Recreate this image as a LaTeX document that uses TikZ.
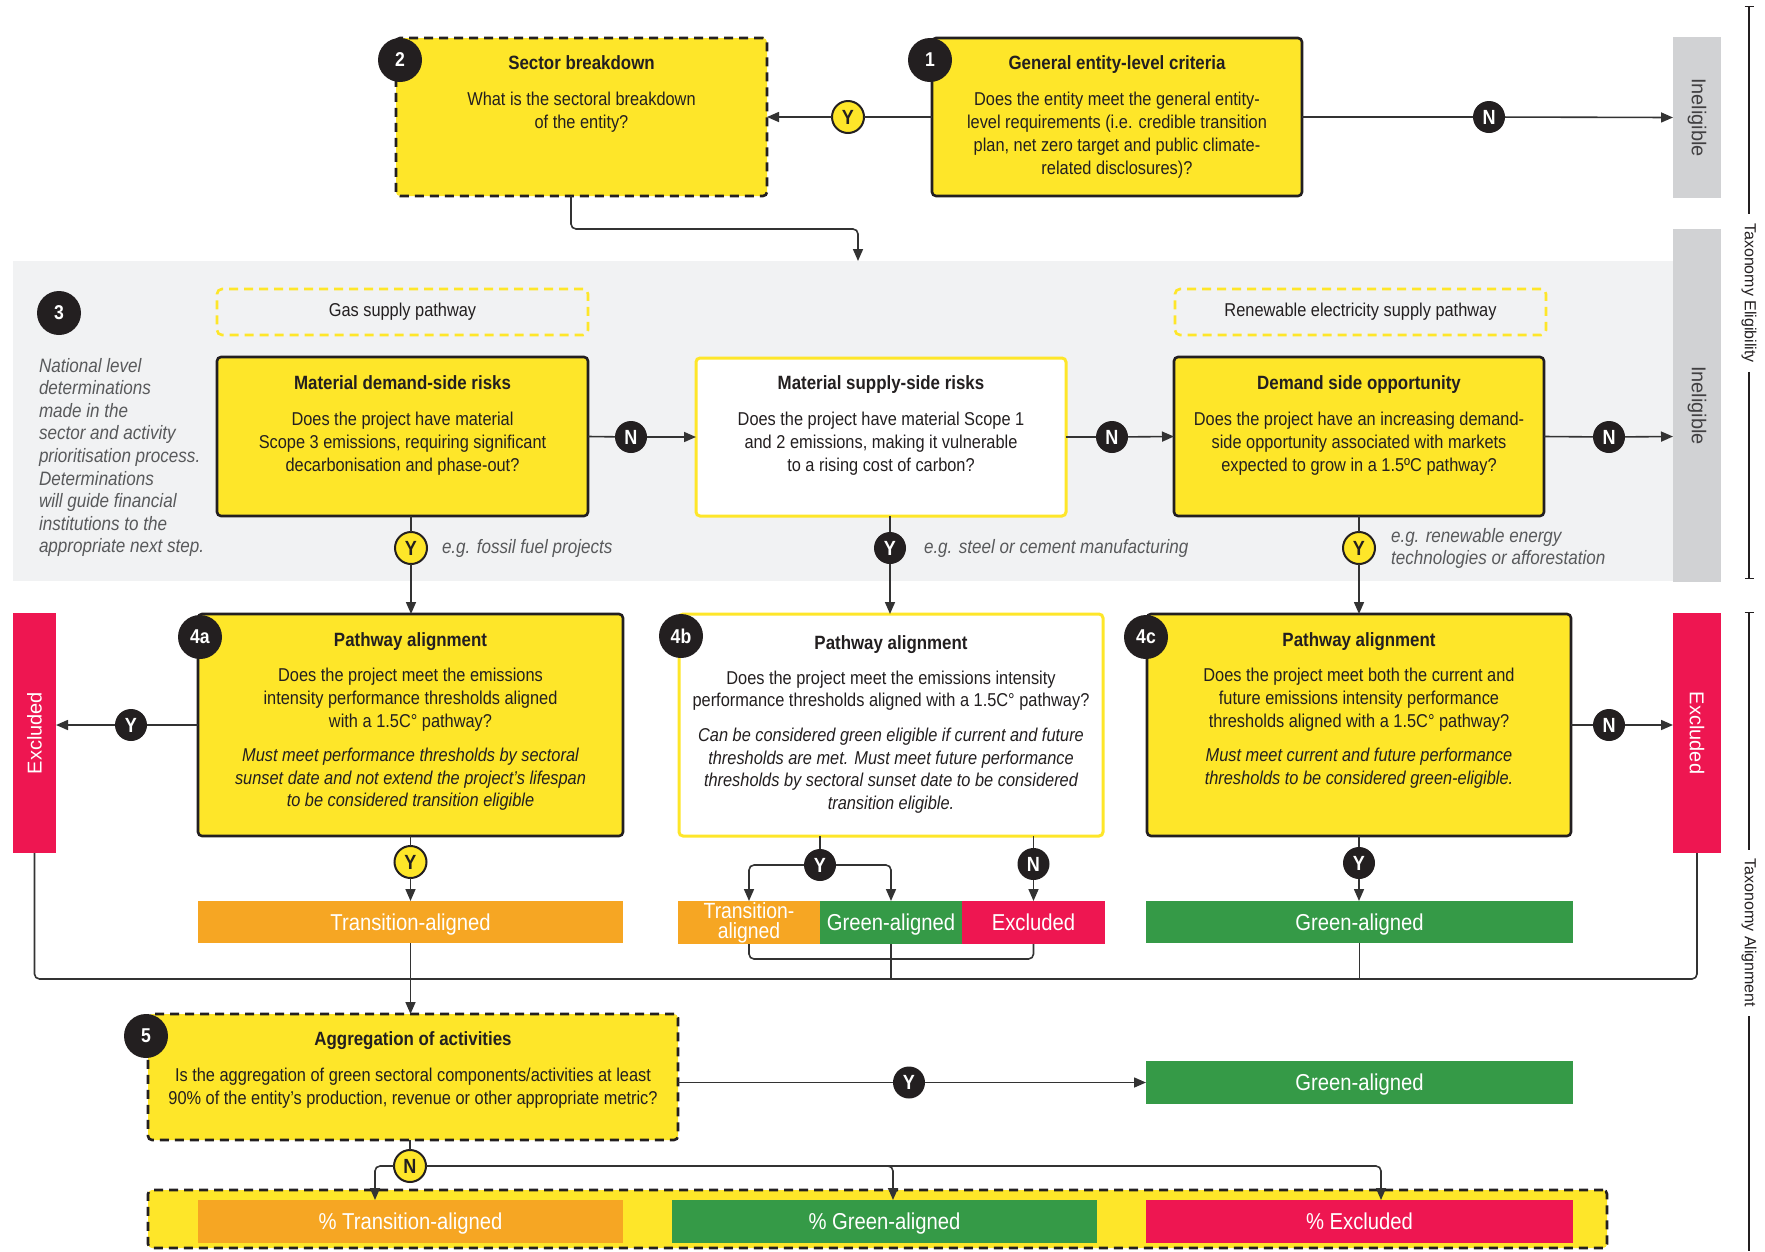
\documentclass[tikz,border=0pt]{standalone}
\usepackage{fontspec}
\setmainfont{Liberation Sans}[FakeStretch=0.88]
\newfontfamily\plainsans{Liberation Sans}
\usetikzlibrary{arrows.meta}
\definecolor{yel}{HTML}{FEE629}
\definecolor{ink}{HTML}{231F20}
\definecolor{linec}{HTML}{333333}
\definecolor{bandc}{HTML}{F1F2F3}
\definecolor{greybox}{HTML}{D1D2D4}
\definecolor{inelc}{HTML}{414042}
\definecolor{exred}{HTML}{EE1651}
\definecolor{orng}{HTML}{F6A623}
\definecolor{grn}{HTML}{359A47}
\definecolor{notec}{HTML}{58595B}
\newcommand\ttlfont{\bfseries\fontsize{19.2}{21}\selectfont}
\newcommand\bdyfont{\fontsize{18.6}{22.7}\selectfont}
\newcommand\itlfont{\itshape\fontsize{18.6}{22.5}\selectfont}
\newcommand\notefont{\itshape\fontsize{19.4}{22.6}\selectfont}
\newcommand\barfont{\fontsize{23}{20}\selectfont}
\newcommand\badgefont{\bfseries\fontsize{20}{20}\selectfont}
\newcommand\qfont{\bfseries\fontsize{20.5}{20}\selectfont}
\newcommand\vfont{\plainsans\fontsize{20}{20}\selectfont}
\newcommand\axfont{\plainsans\fontsize{16}{16}\selectfont}
\begin{document}
\begin{tikzpicture}[x=1pt,y=-1pt,
  every node/.style={inner sep=0pt,outer sep=0pt},
  conn/.style={draw=linec,line width=1.6pt,rounded corners=5pt},
  arrowed/.style={-{Triangle[length=12pt,width=10pt]}},
  ybox/.style={draw=ink,line width=2.6pt,fill=yel,rounded corners=4pt},
  wbox/.style={draw=yel,line width=3pt,fill=white,rounded corners=4pt},
  dbox/.style={draw=ink,line width=2.6pt,dash pattern=on 9pt off 6pt,fill=yel,rounded corners=4pt},
  pathbox/.style={draw=yel,line width=2.6pt,dash pattern=on 9pt off 6pt,rounded corners=5pt},
  bartext/.style={anchor=base,text=white,font=\barfont},
  badge/.style={circle,fill=ink,minimum size=44pt,text=white,font=\badgefont},
  qy/.style={circle,draw=ink,line width=2pt,fill=yel,minimum size=32pt,text=ink,font=\qfont},
  qd/.style={circle,fill=ink,minimum size=32pt,text=white,font=\qfont},
  ttl/.style={anchor=base,font=\ttlfont,text=ink},
  bdy/.style={anchor=north,align=center,font=\bdyfont,text=ink},
  itl/.style={anchor=north,align=center,font=\itlfont,text=ink},
  note/.style={font=\notefont,text=notec,align=left},
  vlab/.style={font=\vfont,text=inelc},
  vwhite/.style={font=\vfont,text=white},
  axlab/.style={font=\axfont,text=ink,inner sep=9pt},
  axis/.style={draw=ink,line width=1.4pt},
]
\useasboundingbox (0,0) rectangle (1765,1251);

% ---- backgrounds and side panels
\node[fill=bandc,minimum width=1660pt,minimum height=320pt] (band) at (843,421) {};
\node[fill=greybox,minimum width=48pt,minimum height=161pt] (inel1) at (1697,117.5) {};
\node[fill=greybox,minimum width=48pt,minimum height=353pt] (inel2) at (1697,405.5) {};
\node[fill=exred,minimum width=43pt,minimum height=240pt] (exL) at (34.5,733) {};
\node[fill=exred,minimum width=48pt,minimum height=240pt] (exR) at (1697,733) {};
\node[vlab,rotate=-90] (inel1t) at (1697,117.5) {Ineligible};
\node[vlab,rotate=-90] (inel2t) at (1697,405.5) {Ineligible};
\node[vwhite,rotate=90] (exLt) at (34.5,733) {Excluded};
\node[vwhite,rotate=-90] (exRt) at (1697,733) {Excluded};

% ---- step 1 and 2
\node[ybox,minimum width=370pt,minimum height=158pt] (b1) at (1117,117) {};
\node[ttl] (b1t) at (1117,69.5) {General entity-level criteria};
\node[bdy] (b1b) at (1117,92.5) {Does the entity meet the general entity-\\level requirements (i.e. credible transition\\plan, net zero target and public climate-\\related disclosures)?};
\node[dbox,minimum width=371pt,minimum height=158pt] (b2) at (581.5,117) {};
\node[ttl] (b2t) at (581.5,69.5) {Sector breakdown};
\node[bdy] (b2b) at (581.5,92.5) {What is the sectoral breakdown\\of the entity?};

% ---- step 3
\node[pathbox,minimum width=371pt,minimum height=46pt] (gas) at (402.5,312) {};
\node[font=\bdyfont,text=ink] (gast) at (402.5,312) {Gas supply pathway};
\node[pathbox,minimum width=371pt,minimum height=46pt] (ren) at (1360.5,312) {};
\node[font=\bdyfont,text=ink] (rent) at (1360.5,312) {Renewable electricity supply pathway};

\node[note,anchor=north west] (side) at (39,358) {National level\\determinations\\made in the\\sector and activity\\prioritisation process.\\Determinations\\will guide financial\\institutions to the\\appropriate next step.};

\node[ybox,minimum width=371pt,minimum height=159pt] (Ma) at (402.5,436.5) {};
\node[ttl] (Mat) at (402.5,389.5) {Material demand-side risks};
\node[bdy] (Mab) at (402.5,412.5) {Does the project have material\\Scope 3 emissions, requiring significant\\decarbonisation and phase-out?};
\node[wbox,minimum width=370pt,minimum height=158pt] (Ms) at (881,437) {};
\node[ttl] (Mst) at (881,389.5) {Material supply-side risks};
\node[bdy] (Msb) at (881,412.5) {Does the project have material Scope 1\\and 2 emissions, making it vulnerable\\to a rising cost of carbon?};
\node[ybox,minimum width=370pt,minimum height=159pt] (Mo) at (1359,436.5) {};
\node[ttl] (Mot) at (1359,389.5) {Demand side opportunity};
\node[bdy] (Mob) at (1359,412.5) {Does the project have an increasing demand-\\side opportunity associated with markets\\expected to grow in a 1.5ºC pathway?};

% ---- step 4
\node[ybox,minimum width=425pt,minimum height=222pt] (a4) at (410.5,725) {};
\node[ttl] (a4t) at (410.5,646.5) {Pathway alignment};
\node[bdy] (a4b) at (410.5,668.5) {Does the project meet the emissions\\intensity performance thresholds aligned\\with a 1.5C° pathway?};
\node[itl] (a4i) at (410.5,748.5) {Must meet performance thresholds by sectoral\\sunset date and not extend the project’s lifespan\\to be considered transition eligible};
\node[wbox,minimum width=424pt,minimum height=222pt] (b4) at (891,725) {};
\node[ttl] (b4t) at (891,649.5) {Pathway alignment};
\node[bdy,font=\fontsize{18.6}{21.5}\selectfont] (b4b) at (891,671.5) {Does the project meet the emissions intensity\\performance thresholds aligned with a 1.5C° pathway?};
\node[itl] (b4i) at (891,728.5) {Can be considered green eligible if current and future\\thresholds are met. Must meet future performance\\thresholds by sectoral sunset date to be considered\\transition eligible.};
\node[ybox,minimum width=424pt,minimum height=222pt] (c4) at (1359,725) {};
\node[ttl] (c4t) at (1359,646.5) {Pathway alignment};
\node[bdy] (c4b) at (1359,668.5) {Does the project meet both the current and\\future emissions intensity performance\\thresholds aligned with a 1.5C° pathway?};
\node[itl] (c4i) at (1359,748.5) {Must meet current and future performance\\thresholds to be considered green-eligible.};

% ---- outcome bars
\node[fill=orng,minimum width=425pt,minimum height=42pt] (ta) at (410.5,922) {};
\node[bartext] (tat) at (410.5,930) {Transition-aligned};
\node[fill=orng,minimum width=142pt,minimum height=43pt] (ta2) at (749,922.5) {};
\node[text=white,align=center,font=\fontsize{22}{20}\selectfont] (ta2t) at (749,923) {Transition-\\aligned};
\node[fill=grn,minimum width=142pt,minimum height=43pt] (gb2) at (891,922.5) {};
\node[bartext] (gb2t) at (891,930.5) {Green-aligned};
\node[fill=exred,minimum width=143pt,minimum height=43pt] (ex2) at (1033.5,922.5) {};
\node[bartext] (ex2t) at (1033.5,930.5) {Excluded};
\node[fill=grn,minimum width=427pt,minimum height=42pt] (gc) at (1359.5,922) {};
\node[bartext] (gct) at (1359.5,930) {Green-aligned};

% ---- step 5
\node[dbox,minimum width=530pt,minimum height=126pt] (b5) at (413,1077) {};
\node[ttl] (b5t) at (413,1045.5) {Aggregation of activities};
\node[bdy] (b5b) at (413,1068.5) {Is the aggregation of green sectoral components/activities at least\\90\% of the entity’s production, revenue or other appropriate metric?};
\node[fill=grn,minimum width=427pt,minimum height=43pt] (g5) at (1359.5,1082.5) {};
\node[bartext] (g5t) at (1359.5,1090.5) {Green-aligned};

\node[dbox,minimum width=1459pt,minimum height=58pt] (agg) at (877.5,1219) {};
\node[fill=orng,minimum width=425pt,minimum height=43pt] (pt) at (410.5,1221.5) {};
\node[bartext] (ptt) at (410.5,1229.5) {\% Transition-aligned};
\node[fill=grn,minimum width=425pt,minimum height=43pt] (pg) at (884.5,1221.5) {};
\node[bartext] (pgt) at (884.5,1229.5) {\% Green-aligned};
\node[fill=exred,minimum width=427pt,minimum height=43pt] (pe) at (1359.5,1221.5) {};
\node[bartext] (pet) at (1359.5,1229.5) {\% Excluded};

% ---- step badges
\node[badge] (k1) at (930,60) {1};
\node[badge] (k2) at (400,60) {2};
\node[badge] (k3) at (59,313) {3};
\node[badge] (k4a) at (200,637) {4a};
\node[badge] (k4b) at (681,636) {4b};
\node[badge] (k4c) at (1146,637) {4c};
\node[badge] (k5) at (146,1036) {5};

% ---- decision markers
\node[qy] (yA) at (848,117) {Y};
\node[qd] (nA) at (1489,117) {N};
\node[qd] (n1) at (631,437) {N};
\node[qd] (n2) at (1112,437) {N};
\node[qd] (n3) at (1609,437) {N};
\node[qy] (y1) at (411,548) {Y};
\node[qd] (y2) at (890,548) {Y};
\node[qy] (y3) at (1359,548) {Y};
\node[qd] (y4) at (131,725) {Y};
\node[qd] (n4) at (1609,725) {N};
\node[qy] (y5) at (410.5,862) {Y};
\node[qd] (yb) at (820,865) {Y};
\node[qd] (nb) at (1033.5,864) {N};
\node[qd] (yc) at (1359,863) {Y};
\node[qd] (y6) at (909,1082.5) {Y};
\node[qy] (n6) at (410,1166) {N};

% ---- example notes
\node[note,anchor=west] (e1) at (442,548) {e.g. fossil fuel projects};
\node[note,anchor=west] (e2) at (924,548) {e.g. steel or cement manufacturing};
\node[note,anchor=north west] (e3) at (1391,528) {e.g. renewable energy\\technologies or afforestation};

% ---- connectors
\coordinate (bandin) at (858,261);
\coordinate (collect) at (900,979);
\draw[conn,arrowed] (b1.west) -- (yA) -- (b2.east);
\draw[conn,arrowed] (b1.east) -- (nA) -- (inel1.west);
\draw[conn,arrowed] ([xshift=-10.5pt]b2.south) -- ++(0,33) -| (bandin);
\draw[conn,arrowed] (Ma.east) -- (n1) -- (Ms.west);
\draw[conn,arrowed] (Ms.east) -- (n2) -- (Mo.west);
\draw[conn,arrowed] (Mo.east) -- (n3) -- (inel2.west |- Mo.east);
\draw[conn,arrowed] (y1 |- Ma.south) -- (y1) -- (y1 |- a4.north);
\draw[conn,arrowed] (y2 |- Ms.south) -- (y2) -- (y2 |- b4.north);
\draw[conn,arrowed] (y3 |- Mo.south) -- (y3) -- (y3 |- c4.north);
\draw[conn,arrowed] (a4.west) -- (y4) -- (exL.east |- a4.west);
\draw[conn,arrowed] (c4.east) -- (n4) -- (exR.west |- c4.east);
\draw[conn,arrowed] (y5 |- a4.south) -- (y5) -- (y5 |- ta.north);
\draw[conn] (yb |- b4.south) -- (yb);
\draw[conn,arrowed] (yb) -| (ta2.north);
\draw[conn,arrowed] (yb) -| (gb2.north);
\draw[conn,arrowed] (nb |- b4.south) -- (nb) -- (ex2.north);
\draw[conn,arrowed] (yc |- c4.south) -- (yc) -- (yc |- gc.north);
\draw[conn] (ta2.south) -- ++(0,15) -| (ex2.south);
\draw[conn] (exL.south) |- (collect) -| (exR.south);
\draw[conn] (gb2.south) -- (gb2.south |- collect);
\draw[conn] (gc.south) -- (gc.south |- collect);
\draw[conn,arrowed] (ta.south) -- (ta.south |- b5.north);
\draw[conn,arrowed] (b5.east |- g5.west) -- (y6) -- (g5.west);
\draw[conn] (n6 |- b5.south) -- (n6);
\draw[conn,arrowed] (n6) -| ([xshift=-35.5pt]pt.north);
\draw[conn,arrowed] (n6) -| ([xshift=8.5pt]pg.north);
\draw[conn,arrowed] (n6) -| ([xshift=21.5pt]pe.north);

% ---- section scale on the right
\node[axlab,rotate=-90] (elig) at (1749,293) {Taxonomy Eligibility};
\node[axlab,rotate=-90] (algn) at (1749,933) {Taxonomy Alignment};
\coordinate (ax1a) at (1749,6);
\coordinate (ax1b) at (1749,579);
\coordinate (ax2a) at (1749,612);
\coordinate (ax2b) at (1749,1251);
\draw[axis,{Bar[width=9pt]}-] (ax1a) -- (elig);
\draw[axis,-{Bar[width=9pt]}] (elig) -- (ax1b);
\draw[axis,{Bar[width=9pt]}-] (ax2a) -- (algn);
\draw[axis] (algn) -- (ax2b);
\end{tikzpicture}
\end{document}
